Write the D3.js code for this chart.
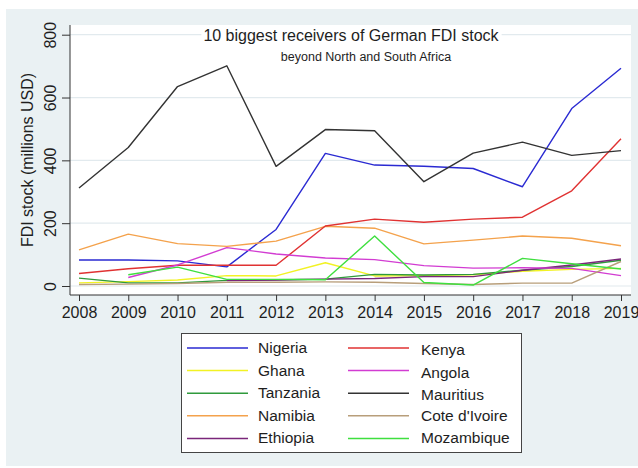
<!DOCTYPE html>
<html>
<head>
<meta charset="utf-8">
<script src="https://cdn.jsdelivr.net/npm/d3@7"></script>
<style>
  body { margin: 0; background: #fff; }
  svg text { font-family: "Liberation Sans", Arial, sans-serif; fill: #1e1e1e; }
</style>
</head>
<body>
<div id="chart"></div>
<script>
// years on the x axis
var years = [2008, 2009, 2010, 2011, 2012, 2013, 2014, 2015, 2016, 2017, 2018, 2019];

// FDI stock per country, millions USD (null = no data)
var nigeria    = [83, 83, 80, 61, 180, 422, 385, 381, 374, 316, 565, 693];
var kenya      = [40, 55, 66, 66, 66, 191, 213, 203, 213, 219, 303, 469];
var ghana      = [10, 14, 19, 33, 32, 74, 32, 33, 36, 47, 53, 56];
var angola     = [null, 27, 67, 122, 102, 89, 84, 65, 57, 58, 56, 33];
var tanzania   = [25, 10, 10, 18, 20, 22, 37, 35, 37, 50, 62, 82];
var mauritius  = [312, 441, 635, 701, 381, 498, 494, 332, 423, 458, 416, 431];
var namibia    = [115, 165, 135, 126, 143, 190, 184, 134, 146, 159, 152, 128];
var coteIvoire = [5, 6, 8, 12, 12, 13, 12, 8, 5, 9, 9, 78];
var ethiopia   = [null, null, null, 17, 19, 22, 24, 30, 30, 50, 67, 86];
var mozambique = [null, 36, 60, 21, 21, 20, 159, 11, 3, 88, 71, 54];

// legend order (two columns, read row by row)
var seriesNames = ["Nigeria", "Kenya", "Ghana", "Angola", "Tanzania", "Mauritius",
  "Namibia", "Cote d'Ivoire", "Ethiopia", "Mozambique"];
var seriesValues = [nigeria, kenya, ghana, angola, tanzania, mauritius,
  namibia, coteIvoire, ethiopia, mozambique];
var seriesColors = ["#2a2ad2", "#e03232", "#f2f224", "#d23cd2", "#2f9a3c", "#333333",
  "#f4a24c", "#b89e7a", "#7a267a", "#3fdf3f"];
// order the lines are drawn in
var drawOrder = [0, 2, 4, 6, 8, 1, 3, 7, 5, 9];

var yTicks = [0, 200, 400, 600, 800];

var width = 638, height = 468;
var plot = { left: 70, right: 631, top: 25, bottom: 295 };

var svg = d3.select("#chart").append("svg")
  .attr("width", width)
  .attr("height", height);

// outer background
svg.append("rect")
  .attr("x", 6).attr("y", 9)
  .attr("width", 632).attr("height", 457)
  .style("fill", "#eaf1f3");

// plot region
svg.append("rect")
  .attr("x", plot.left).attr("y", plot.top)
  .attr("width", plot.right - plot.left).attr("height", plot.bottom - plot.top)
  .style("fill", "#fff");

var xScale = d3.scaleLinear()
  .domain([2008, 2019])
  .range([79, 621]);
var yScale = d3.scaleLinear()
  .domain([0, 800])
  .range([286, 34.7]);

// horizontal grid lines
svg.append("g")
  .selectAll("line")
  .data(yTicks)
  .enter()
  .append("line")
  .attr("x1", plot.left)
  .attr("x2", plot.right)
  .attr("y1", function (d) { return yScale(d); })
  .attr("y2", function (d) { return yScale(d); })
  .style("stroke", "#e2eaee")
  .style("stroke-width", 1.2);

// series lines
var line = d3.line()
  .defined(function (d) { return d.v !== null; })
  .x(function (d) { return xScale(d.year); })
  .y(function (d) { return yScale(d.v); });

var lineGroup = svg.append("g");
drawOrder.forEach(function (i) {
  var pts = years.map(function (y, j) {
    return { year: y, v: seriesValues[i][j] };
  });
  lineGroup.append("path")
    .datum(pts)
    .attr("d", line)
    .style("fill", "none")
    .style("stroke", seriesColors[i])
    .style("stroke-width", 1.4)
    .style("stroke-linejoin", "round");
});

// title with white box behind it (covers the top grid line)
var title = svg.append("text")
  .attr("x", 351)
  .attr("y", 40.5)
  .attr("text-anchor", "middle")
  .style("font-size", "16px")
  .text("10 biggest receivers of German FDI stock");
var tb = title.node().getBBox();
svg.insert("rect", "text")
  .attr("x", tb.x - 2).attr("y", tb.y)
  .attr("width", tb.width + 4).attr("height", tb.height + 2)
  .style("fill", "#fff");

svg.append("text")
  .attr("x", 366)
  .attr("y", 60.5)
  .attr("text-anchor", "middle")
  .style("font-size", "12.5px")
  .text("beyond North and South Africa");

// axes
var yAxis = d3.axisLeft(yScale)
  .tickValues(yTicks)
  .tickSize(8)
  .tickFormat(d3.format("d"));
var yAxisGroup = svg.append("g")
  .attr("transform", "translate(" + plot.left + ",0)")
  .call(yAxis);
yAxisGroup.select(".domain").remove();
yAxisGroup.selectAll("line").style("stroke", "#333");
yAxisGroup.selectAll("text")
  .attr("transform", "rotate(-90)")
  .attr("x", 0)
  .attr("y", -14)
  .attr("dy", null)
  .style("text-anchor", "middle")
  .style("font-size", "16px")
  .style("font-family", "'Liberation Sans', Arial, sans-serif");

var xAxis = d3.axisBottom(xScale)
  .tickValues(years)
  .tickSize(6)
  .tickPadding(6)
  .tickFormat(d3.format("d"));
var xAxisGroup = svg.append("g")
  .attr("transform", "translate(0," + plot.bottom + ")")
  .call(xAxis);
xAxisGroup.select(".domain").remove();
xAxisGroup.selectAll("line").style("stroke", "#333");
xAxisGroup.selectAll("text")
  .style("font-size", "16px")
  .style("font-family", "'Liberation Sans', Arial, sans-serif");

// axis lines
svg.append("line")
  .attr("x1", plot.left).attr("x2", plot.left)
  .attr("y1", plot.top).attr("y2", plot.bottom)
  .style("stroke", "#333");
svg.append("line")
  .attr("x1", plot.left).attr("x2", plot.right)
  .attr("y1", plot.bottom).attr("y2", plot.bottom)
  .style("stroke", "#333");

// y axis title
svg.append("text")
  .attr("transform", "translate(33,160) rotate(-90)")
  .attr("text-anchor", "middle")
  .style("font-size", "16px")
  .text("FDI stock (millions USD)");

// legend
var legend = svg.append("g");
legend.append("rect")
  .attr("x", 181.5).attr("y", 333.5)
  .attr("width", 340).attr("height", 119)
  .style("fill", "#fff")
  .style("stroke", "#444");

var legendItems = legend.selectAll("g.item")
  .data(seriesNames)
  .enter()
  .append("g")
  .attr("class", "item")
  .attr("transform", function (d, i) {
    var col = i % 2, row = Math.floor(i / 2);
    return "translate(" + (col === 0 ? 187 : 348) + "," + (348 + row * 22.6) + ")";
  });
legendItems.append("line")
  .attr("x1", 0).attr("x2", 61)
  .attr("y1", 0).attr("y2", 0)
  .style("stroke", function (d, i) { return seriesColors[i]; })
  .style("stroke-width", 1.5);
legendItems.append("text")
  .attr("x", function (d, i) { return i % 2 === 0 ? 71 : 73; })
  .attr("y", function (d, i) { return (i % 2 === 1 && i < 6) ? 7 : 5; })
  .style("font-size", "15.5px")
  .text(function (d) { return d; });
</script>
</body>
</html>
